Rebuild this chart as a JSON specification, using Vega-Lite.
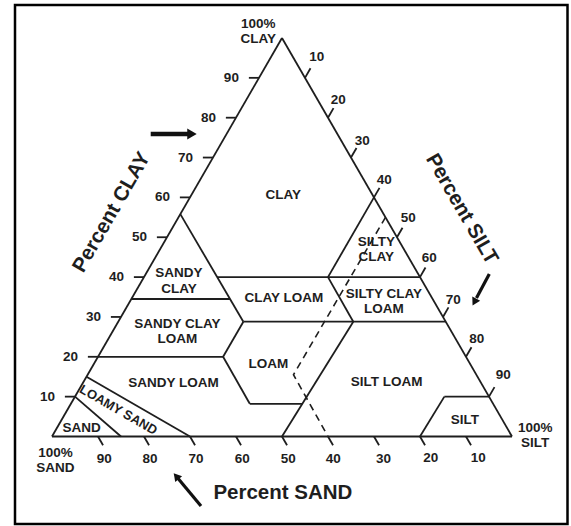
{
  "$schema": "https://vega.github.io/schema/vega-lite/v6.json",
  "width": 552.5,
  "height": 519,
  "autosize": {"type": "none"},
  "padding": {"left": 15, "top": 5, "right": 3.5, "bottom": 2},
  "background": "white",
  "config": {
    "view": {"stroke": "#000000", "strokeWidth": 2.5},
    "text": {"font": "Liberation Sans", "fontWeight": "bold", "color": "#1e1e1e"}
  },
  "datasets": {
    "lines": [
      {"x": 0, "y": 0, "x2": 100, "y2": 0},
      {"x": 0, "y": 0, "x2": 50, "y2": 100},
      {"x": 50, "y": 100, "x2": 100, "y2": 0},
      {"x": 27.9, "y": 55.8, "x2": 41.6, "y2": 28.8},
      {"x": 35.9, "y": 40, "x2": 80, "y2": 40},
      {"x": 17.25, "y": 34.5, "x2": 38.7, "y2": 34.5},
      {"x": 41.6, "y": 28.8, "x2": 85.6, "y2": 28.8},
      {"x": 70, "y": 60, "x2": 60, "y2": 40},
      {"x": 60, "y": 40, "x2": 65.5, "y2": 28.8},
      {"x": 50, "y": 0, "x2": 65.5, "y2": 28.8},
      {"x": 41.6, "y": 28.8, "x2": 37.2, "y2": 20},
      {"x": 37.2, "y": 20, "x2": 43, "y2": 8.2},
      {"x": 43, "y": 8.2, "x2": 54.4, "y2": 8.2},
      {"x": 10, "y": 20, "x2": 37.2, "y2": 20},
      {"x": 7.5, "y": 15, "x2": 30, "y2": 0},
      {"x": 5, "y": 10, "x2": 15, "y2": 0},
      {"x": 85.3, "y": 10, "x2": 95, "y2": 10},
      {"x": 80, "y": 0, "x2": 85.3, "y2": 10},
      {"x": 5, "y": 10, "x2": 2.8, "y2": 10},
      {"x": 10, "y": 20, "x2": 7.8, "y2": 20},
      {"x": 15, "y": 30, "x2": 12.8, "y2": 30},
      {"x": 20, "y": 40, "x2": 17.8, "y2": 40},
      {"x": 25, "y": 50, "x2": 22.8, "y2": 50},
      {"x": 30, "y": 60, "x2": 27.8, "y2": 60},
      {"x": 35, "y": 70, "x2": 32.8, "y2": 70},
      {"x": 40, "y": 80, "x2": 37.8, "y2": 80},
      {"x": 45, "y": 90, "x2": 42.8, "y2": 90},
      {"x": 55, "y": 90, "x2": 56.2, "y2": 92.4},
      {"x": 60, "y": 80, "x2": 61.2, "y2": 82.4},
      {"x": 65, "y": 70, "x2": 66.2, "y2": 72.4},
      {"x": 70, "y": 60, "x2": 71.2, "y2": 62.4},
      {"x": 75, "y": 50, "x2": 76.2, "y2": 52.4},
      {"x": 80, "y": 40, "x2": 81.2, "y2": 42.4},
      {"x": 85, "y": 30, "x2": 86.2, "y2": 32.4},
      {"x": 90, "y": 20, "x2": 91.2, "y2": 22.4},
      {"x": 95, "y": 10, "x2": 96.2, "y2": 12.4},
      {"x": 10, "y": 0, "x2": 11.1, "y2": -2.2},
      {"x": 20, "y": 0, "x2": 21.1, "y2": -2.2},
      {"x": 30, "y": 0, "x2": 31.1, "y2": -2.2},
      {"x": 40, "y": 0, "x2": 41.1, "y2": -2.2},
      {"x": 50, "y": 0, "x2": 51.1, "y2": -2.2},
      {"x": 60, "y": 0, "x2": 61.1, "y2": -2.2},
      {"x": 70, "y": 0, "x2": 71.1, "y2": -2.2},
      {"x": 80, "y": 0, "x2": 81.1, "y2": -2.2},
      {"x": 90, "y": 0, "x2": 91.1, "y2": -2.2}
    ],
    "dash": [
      {"i": 0, "x": 72.5, "y": 55},
      {"i": 1, "x": 52.5, "y": 15.5},
      {"i": 2, "x": 60, "y": 0}
    ],
    "regions": [
      {"label": "CLAY", "x": 50.3, "y": 60.7},
      {"label": "CLAY LOAM", "x": 50.43, "y": 34.68},
      {"label": "LOAM", "x": 47.02, "y": 18.19},
      {"label": "SANDY LOAM", "x": 26.41, "y": 13.43},
      {"label": "SILT LOAM", "x": 72.76, "y": 13.58},
      {"label": "SAND", "x": 6.46, "y": 2.06},
      {"label": "SILT", "x": 89.78, "y": 4.14}
    ],
    "regions2": [
      {"label": "SILTY\nCLAY", "x": 70.5, "y": 46.9},
      {"label": "SANDY\nCLAY", "x": 27.6, "y": 38.97},
      {"label": "SILTY CLAY\nLOAM", "x": 72.17, "y": 33.83},
      {"label": "SANDY CLAY\nLOAM", "x": 27.24, "y": 26.4}
    ],
    "loamy": [
      {"label": "LOAMY SAND", "x": 14.41, "y": 6.65}
    ],
    "ticklabels": [
      {"t": "10", "x": -1, "y": 10},
      {"t": "20", "x": 4, "y": 20},
      {"t": "30", "x": 9, "y": 30},
      {"t": "40", "x": 14, "y": 40},
      {"t": "50", "x": 19, "y": 50},
      {"t": "60", "x": 24, "y": 60},
      {"t": "70", "x": 29, "y": 70},
      {"t": "80", "x": 34, "y": 80},
      {"t": "90", "x": 39, "y": 90},
      {"t": "10", "x": 57.54, "y": 95.16},
      {"t": "20", "x": 62.24, "y": 84.44},
      {"t": "30", "x": 67.46, "y": 74.23},
      {"t": "40", "x": 72.24, "y": 64.37},
      {"t": "50", "x": 77.46, "y": 54.76},
      {"t": "60", "x": 82.02, "y": 44.72},
      {"t": "70", "x": 87.24, "y": 34.25},
      {"t": "80", "x": 92.33, "y": 24.39},
      {"t": "90", "x": 98.11, "y": 15.43},
      {"t": "90", "x": 11.37, "y": -5.65},
      {"t": "80", "x": 21.3, "y": -5.65},
      {"t": "70", "x": 31.3, "y": -5.65},
      {"t": "60", "x": 41.37, "y": -5.65},
      {"t": "50", "x": 51.37, "y": -5.65},
      {"t": "40", "x": 61.15, "y": -5.65},
      {"t": "30", "x": 72.07, "y": -5.65},
      {"t": "20", "x": 82.33, "y": -5.3},
      {"t": "10", "x": 92.67, "y": -5.5}
    ],
    "vertex": [
      {"t": "100%\nCLAY", "x": 44.85, "y": 101.63},
      {"t": "100%\nSAND", "x": 0.76, "y": -5.95},
      {"t": "100%\nSILT", "x": 105.04, "y": 0.25}
    ],
    "titles": [
      {"t": "Percent CLAY", "x": 12.98, "y": 56.26},
      {"t": "Percent SILT", "x": 89.07, "y": 57.09},
      {"t": "Percent SAND", "x": 50.2, "y": -14.1}
    ],
    "shafts": [
      {"a": "clay", "x": 21.46, "y": 75.91, "x2": 30.0, "y2": 75.91},
      {"a": "silt", "x": 95.07, "y": 40.78, "x2": 92.28, "y2": 34.76},
      {"a": "sand", "x": 32.39, "y": -17.44, "x2": 27.28, "y2": -10.36}
    ],
    "heads": [
      {"a": "clay", "x": 30.43, "y": 75.91},
      {"a": "silt", "x": 91.83, "y": 33.75},
      {"a": "sand", "x": 27.0, "y": -9.96}
    ]
  },
  "encoding": {
    "x": {"field": "x", "type": "quantitative", "axis": null, "scale": {"domain": [-8.043, 112.07], "nice": false, "zero": false}},
    "y": {"field": "y", "type": "quantitative", "axis": null, "scale": {"domain": [-21.96, 108.28], "nice": false, "zero": false}}
  },
  "layer": [
    {
      "data": {"name": "lines"},
      "mark": {"type": "rule", "color": "#1e1e1e", "strokeWidth": 1.8},
      "encoding": {"x2": {"field": "x2"}, "y2": {"field": "y2"}}
    },
    {
      "data": {"name": "dash"},
      "mark": {"type": "line", "color": "#1e1e1e", "strokeWidth": 1.6, "strokeDash": [7, 5]},
      "encoding": {"order": {"field": "i", "type": "quantitative"}}
    },
    {
      "data": {"name": "regions"},
      "mark": {"type": "text", "fontSize": 13.5, "align": "center", "baseline": "middle"},
      "encoding": {"text": {"field": "label"}}
    },
    {
      "data": {"name": "regions2"},
      "mark": {"type": "text", "fontSize": 13.5, "lineBreak": "\n", "lineHeight": 15.5, "align": "center", "baseline": "middle", "dy": -7.75},
      "encoding": {"text": {"field": "label"}}
    },
    {
      "data": {"name": "loamy"},
      "mark": {"type": "text", "fontSize": 13, "angle": 30, "align": "center", "baseline": "middle"},
      "encoding": {"text": {"field": "label"}}
    },
    {
      "data": {"name": "ticklabels"},
      "mark": {"type": "text", "fontSize": 13.5, "align": "center", "baseline": "middle"},
      "encoding": {"text": {"field": "t"}}
    },
    {
      "data": {"name": "vertex"},
      "mark": {"type": "text", "fontSize": 13.5, "lineBreak": "\n", "lineHeight": 15, "align": "center", "baseline": "middle", "dy": -7.5},
      "encoding": {"text": {"field": "t"}}
    },
    {
      "data": {"name": "titles"},
      "transform": [{"filter": "datum.t === 'Percent CLAY'"}],
      "mark": {"type": "text", "fontSize": 20.5, "angle": -60, "align": "center", "baseline": "middle"},
      "encoding": {"text": {"field": "t"}}
    },
    {
      "data": {"name": "titles"},
      "transform": [{"filter": "datum.t === 'Percent SILT'"}],
      "mark": {"type": "text", "fontSize": 20.5, "angle": 60, "align": "center", "baseline": "middle"},
      "encoding": {"text": {"field": "t"}}
    },
    {
      "data": {"name": "titles"},
      "transform": [{"filter": "datum.t === 'Percent SAND'"}],
      "mark": {"type": "text", "fontSize": 20.5, "align": "center", "baseline": "middle"},
      "encoding": {"text": {"field": "t"}}
    },
    {
      "data": {"name": "shafts"},
      "transform": [{"filter": "datum.a === 'clay'"}],
      "mark": {"type": "rule", "color": "#111111", "strokeWidth": 4.5},
      "encoding": {"x2": {"field": "x2"}, "y2": {"field": "y2"}}
    },
    {
      "data": {"name": "shafts"},
      "transform": [{"filter": "datum.a !== 'clay'"}],
      "mark": {"type": "rule", "color": "#111111", "strokeWidth": 3.2},
      "encoding": {"x2": {"field": "x2"}, "y2": {"field": "y2"}}
    },
    {
      "data": {"name": "heads"},
      "transform": [{"filter": "datum.a === 'clay'"}],
      "mark": {"type": "point", "shape": "triangle-right", "filled": true, "color": "#111111", "opacity": 1, "size": 120, "angle": 0}
    },
    {
      "data": {"name": "heads"},
      "transform": [{"filter": "datum.a === 'silt'"}],
      "mark": {"type": "point", "shape": "triangle-right", "filled": true, "color": "#111111", "opacity": 1, "size": 80, "angle": 118}
    },
    {
      "data": {"name": "heads"},
      "transform": [{"filter": "datum.a === 'sand'"}],
      "mark": {"type": "point", "shape": "triangle-right", "filled": true, "color": "#111111", "opacity": 1, "size": 80, "angle": 230}
    }
  ]
}
